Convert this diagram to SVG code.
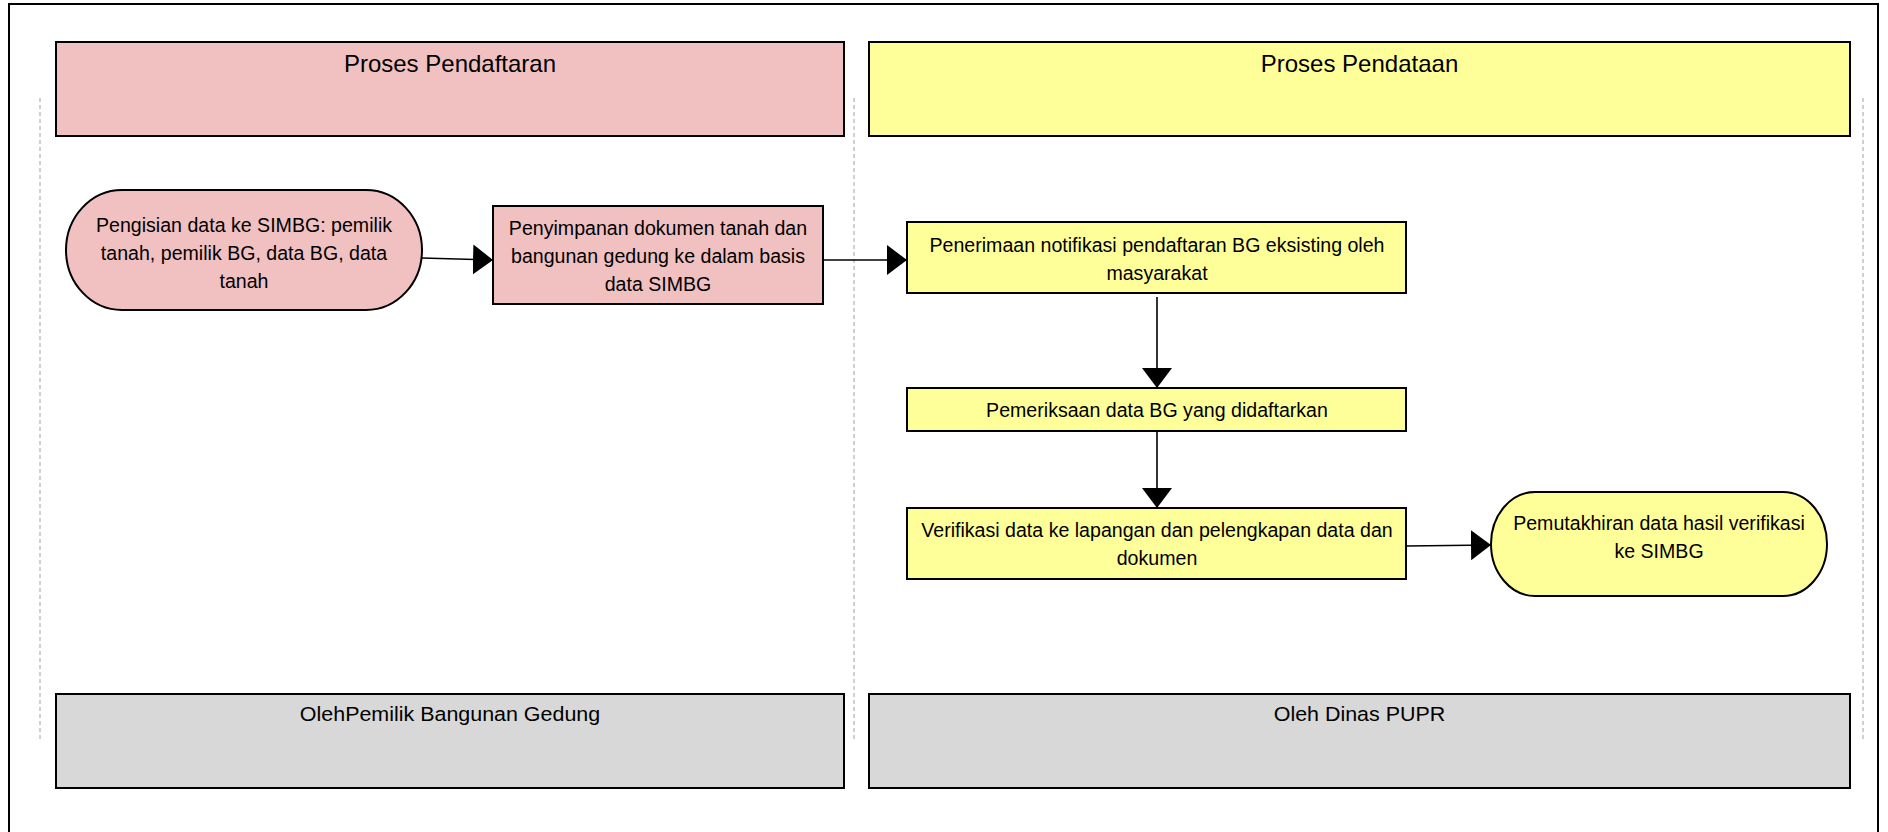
<svg xmlns="http://www.w3.org/2000/svg" width="1888" height="832" viewBox="0 0 1888 832">
<style>
.t{font-family:"Liberation Sans",Arial,sans-serif;font-size:21px;fill:#000;text-anchor:middle}
.h{font-family:"Liberation Sans",Arial,sans-serif;font-size:24px;fill:#000;text-anchor:middle}
.f{font-family:"Liberation Sans",Arial,sans-serif;font-size:19.5px;fill:#000;text-anchor:middle}
.pink{fill:#F1C1C1;stroke:#000;stroke-width:2}
.yel{fill:#FFFF99;stroke:#000;stroke-width:2}
.gray{fill:#D8D8D8;stroke:#000;stroke-width:2}
.dash{stroke:#A0A0A0;stroke-width:1;stroke-dasharray:4,3;fill:none}
.con{stroke:#000;stroke-width:1.6;fill:none;marker-end:url(#arr)}
</style>
<defs>
<marker id="arr" markerUnits="userSpaceOnUse" markerWidth="22" markerHeight="32" refX="20" refY="15" orient="auto" viewBox="0 0 22 32">
<path d="M0,0 L20,15 L0,30 Z" fill="#000"/>
</marker>
</defs>
<rect x="0" y="0" width="1888" height="832" fill="#fff"/>
<rect x="9" y="4" width="1869" height="850" fill="none" stroke="#000" stroke-width="2"/>
<g id="lanes">
<line class="dash" x1="40" y1="98" x2="40" y2="741"/>
<line class="dash" x1="854" y1="98" x2="854" y2="741"/>
<line class="dash" x1="1863" y1="98" x2="1863" y2="741"/>
</g>
<g id="header-pendaftaran">
<rect class="pink" x="56" y="42" width="788" height="94"/>
<text class="h" x="450" y="72">Proses Pendaftaran</text>
</g>
<g id="header-pendataan">
<rect class="yel" x="869" y="42" width="981" height="94"/>
<text class="h" x="1359.5" y="72">Proses Pendataan</text>
</g>
<g id="footer-pemilik">
<rect class="gray" x="56" y="694" width="788" height="94"/>
<text class="f" transform="translate(450 0) scale(1.1 1)" x="0" y="721">OlehPemilik Bangunan Gedung</text>
</g>
<g id="footer-dinas">
<rect class="gray" x="869" y="694" width="981" height="94"/>
<text class="f" transform="translate(1359.5 0) scale(1.1 1)" x="0" y="721">Oleh Dinas PUPR</text>
</g>
<g id="connectors">
<line class="con" x1="422" y1="258" x2="493" y2="260"/>
<line class="con" x1="823" y1="260" x2="907" y2="260"/>
<line class="con" x1="1157" y1="297" x2="1157" y2="388"/>
<line class="con" x1="1157" y1="431" x2="1157" y2="508"/>
<line class="con" x1="1406" y1="546" x2="1491" y2="545"/>
</g>
<g id="n1">
<rect class="pink" x="66" y="190" width="356" height="120" rx="56" ry="60"/>
<g transform="translate(244 0) scale(0.933 1)">
<text class="t" x="0" y="232">Pengisian data ke SIMBG: pemilik</text>
<text class="t" x="0" y="260">tanah, pemilik BG, data BG, data</text>
<text class="t" x="0" y="288">tanah</text>
</g>
</g>
<g id="n2">
<rect class="pink" x="493" y="206" width="330" height="98"/>
<g transform="translate(658 0) scale(0.933 1)">
<text class="t" x="0" y="235">Penyimpanan dokumen tanah dan</text>
<text class="t" x="0" y="263">bangunan gedung ke dalam basis</text>
<text class="t" x="0" y="291">data SIMBG</text>
</g>
</g>
<g id="n3">
<rect class="yel" x="907" y="222" width="499" height="71"/>
<g transform="translate(1157 0) scale(0.933 1)">
<text class="t" x="0" y="252">Penerimaan notifikasi pendaftaran BG eksisting oleh</text>
<text class="t" x="0" y="280">masyarakat</text>
</g>
</g>
<g id="n4">
<rect class="yel" x="907" y="388" width="499" height="43"/>
<g transform="translate(1157 0) scale(0.933 1)">
<text class="t" x="0" y="417">Pemeriksaan data BG yang didaftarkan</text>
</g>
</g>
<g id="n5">
<rect class="yel" x="907" y="508" width="499" height="71"/>
<g transform="translate(1157 0) scale(0.933 1)">
<text class="t" x="0" y="537">Verifikasi data ke lapangan dan pelengkapan data dan</text>
<text class="t" x="0" y="565">dokumen</text>
</g>
</g>
<g id="n6">
<rect class="yel" x="1491" y="492" width="336" height="104" rx="44" ry="52"/>
<g transform="translate(1659 0) scale(0.933 1)">
<text class="t" x="0" y="530">Pemutakhiran data hasil verifikasi</text>
<text class="t" x="0" y="558">ke SIMBG</text>
</g>
</g>
</svg>
